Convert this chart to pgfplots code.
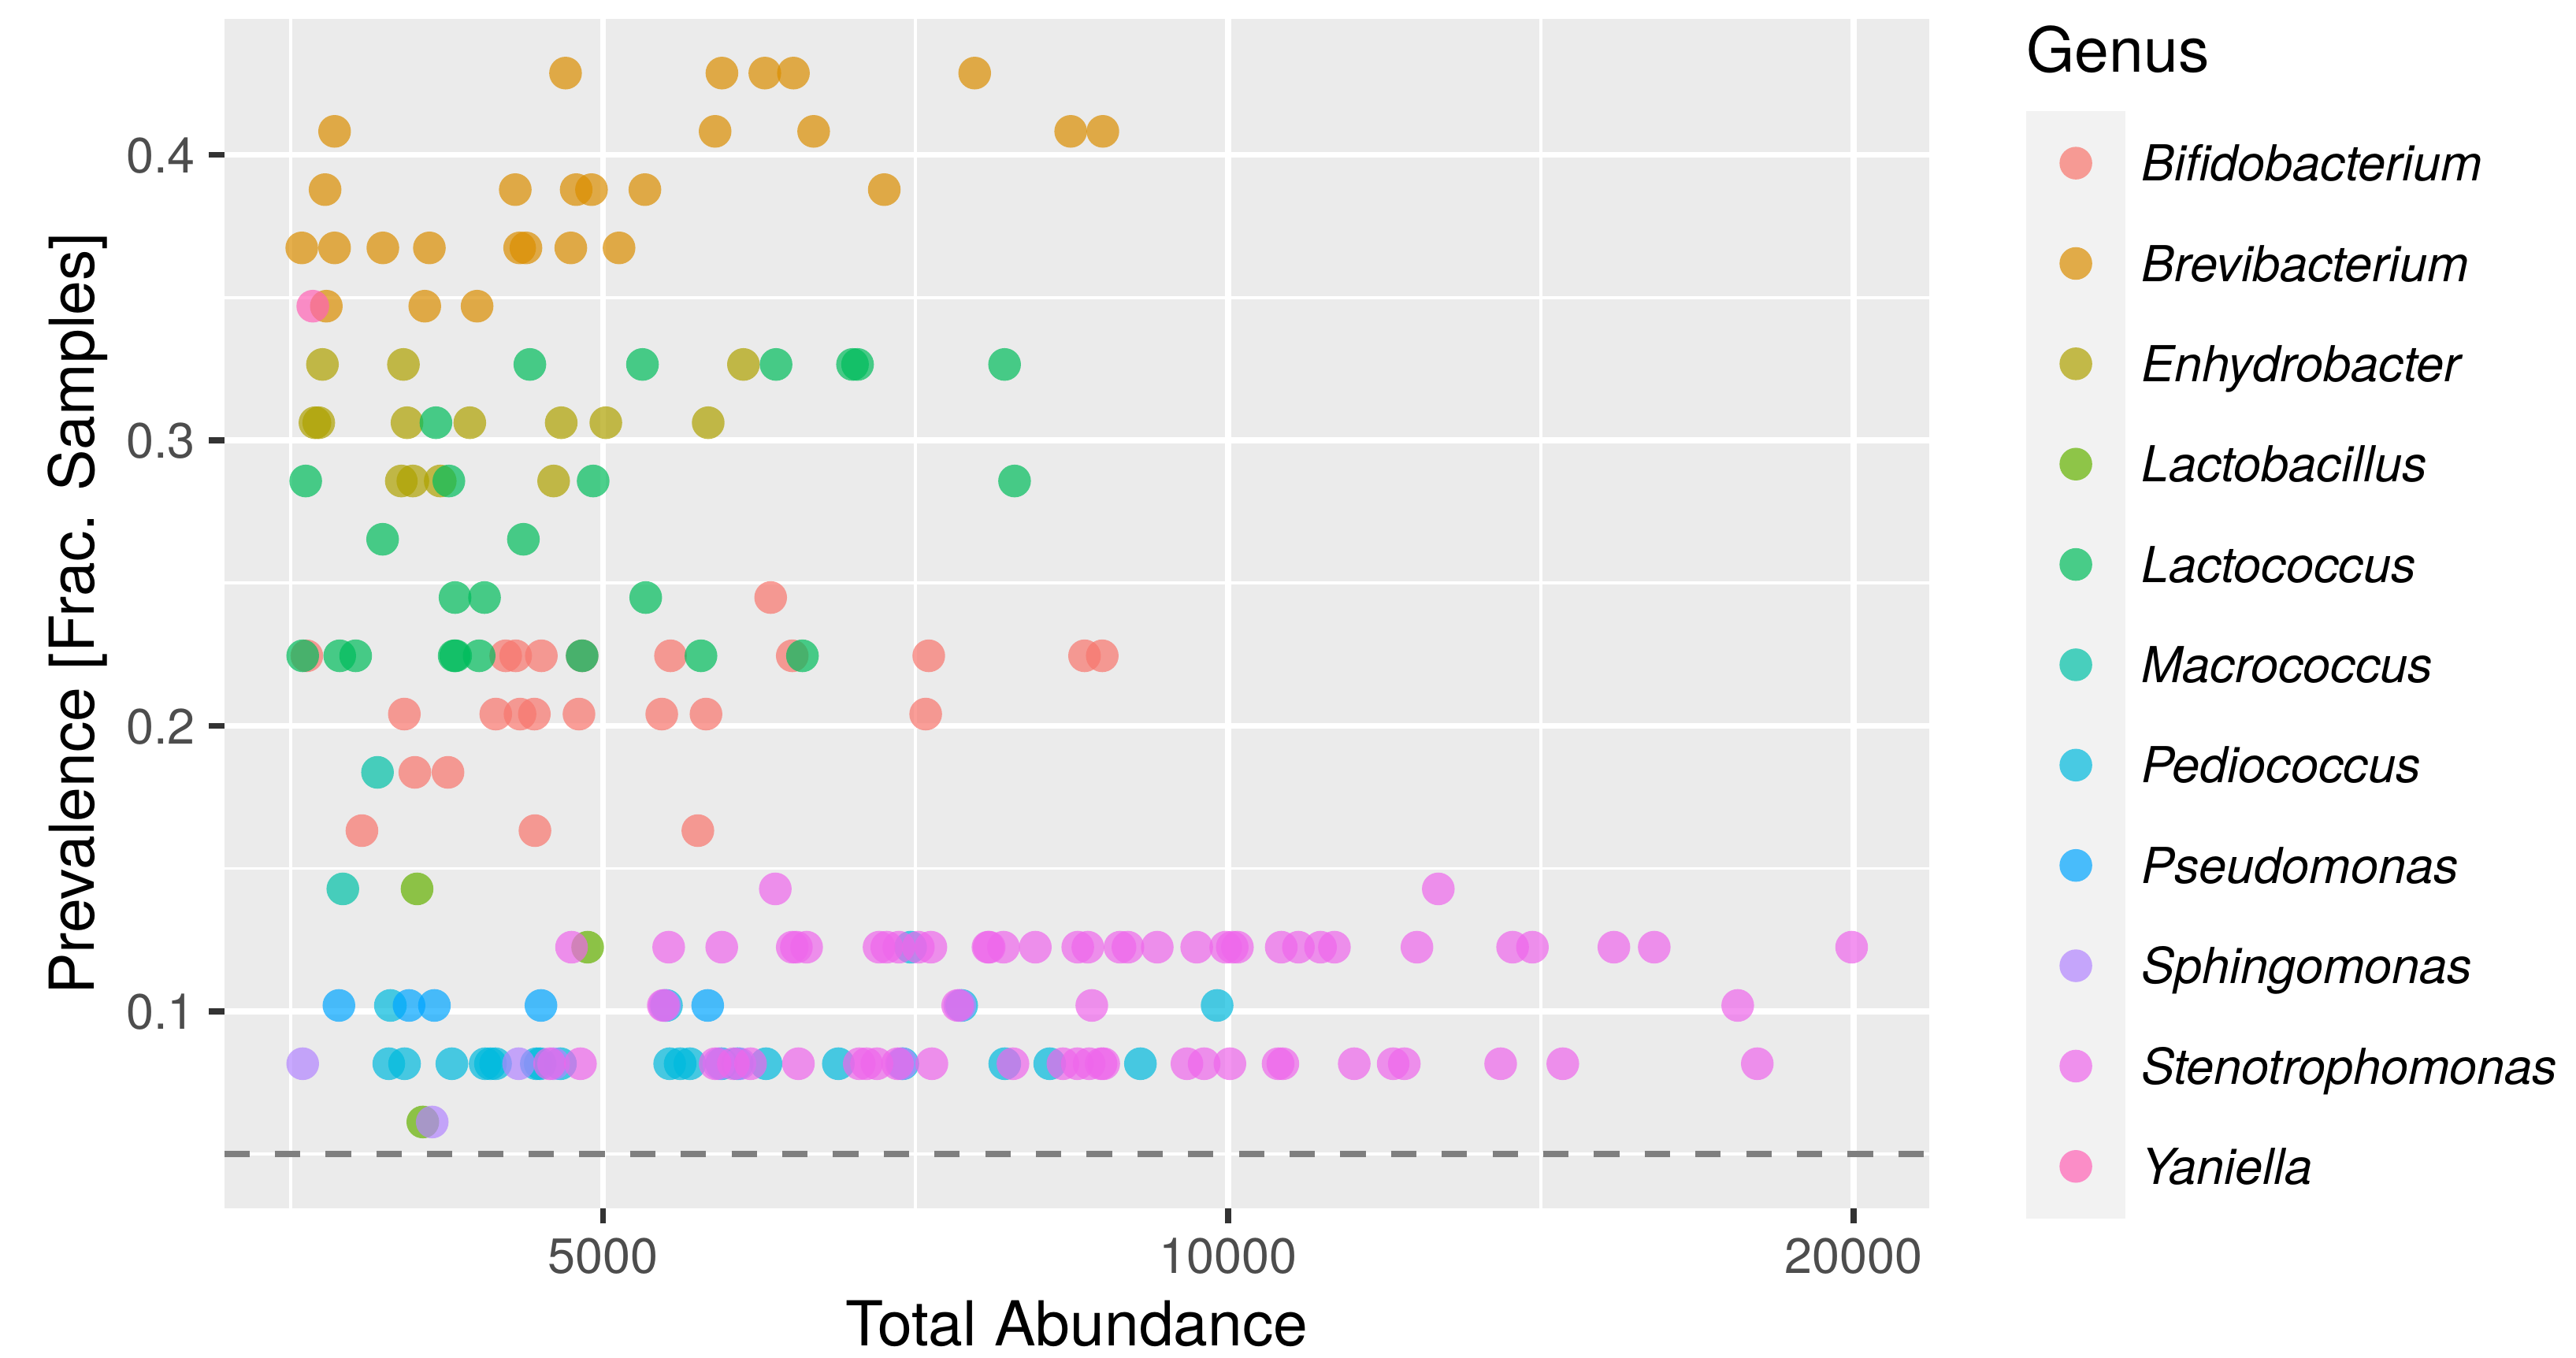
\documentclass[border=0pt]{standalone}
\usepackage{fontspec}
\setmainfont{TeX Gyre Heros}
\usepackage{pgfplots}
\pgfplotsset{compat=1.18}
\definecolor{cBif}{HTML}{F8766D}
\definecolor{cBre}{HTML}{DB8E00}
\definecolor{cEnh}{HTML}{AEA200}
\definecolor{cLba}{HTML}{64B200}
\definecolor{cLco}{HTML}{00BD5C}
\definecolor{cMac}{HTML}{00C1A7}
\definecolor{cPed}{HTML}{00BADE}
\definecolor{cPse}{HTML}{00A6FF}
\definecolor{cSph}{HTML}{B385FF}
\definecolor{cSte}{HTML}{EF67EB}
\definecolor{cYan}{HTML}{FF63B6}
\definecolor{panelbg}{HTML}{EBEBEB}
\definecolor{keybg}{HTML}{F2F2F2}
\definecolor{grey20}{HTML}{333333}
\definecolor{grey30}{HTML}{4D4D4D}
\definecolor{grey50}{HTML}{7F7F7F}
\pgfplotsset{gg/.style={only marks, mark=*, mark size=2.9pt, color=#1, fill=#1, fill opacity=0.7, draw opacity=0,
  mark options={draw=none, draw opacity=0, line width=0pt, fill=#1, fill opacity=0.7}}}
\begin{document}
\begin{tikzpicture}
\begin{axis}[
  scale only axis, width=302.5pt, height=210.96pt,
  xmode=log, xmin=3284.6, xmax=21755, ymin=0.031071, ymax=0.4475,
  clip mode=individual,
  axis background/.style={fill=panelbg},
  axis line style={draw=none},
  xtick={5000,10000,20000}, xticklabels={5000,10000,20000},
  ytick={0.1,0.2,0.3,0.4}, yticklabels={0.1,0.2,0.3,0.4},
  minor xtick={3535.5,7071.1,14142.1},
  minor ytick={0.05,0.15,0.25,0.35},
  xmajorgrids, ymajorgrids, xminorgrids, yminorgrids,
  major grid style={white, line width=1.07pt},
  minor grid style={white, line width=0.53pt},
  tick align=outside, xtick pos=bottom, ytick pos=left,
  major tick length=2.75pt, minor tick length=0pt,
  major tick style={grey20, line width=1.07pt},
  tick label style={font=\fontsize{8.8}{10.56}\selectfont, text=grey30, inner sep=0pt, text height=6.34pt, text depth=0pt},
  xticklabel style={anchor=north, yshift=-2.25pt},
  yticklabel style={anchor=east, xshift=-2.2pt},
  label style={font=\fontsize{11}{13.2}\selectfont, text=black, inner sep=0pt},
  xlabel={Total Abundance},
  xlabel style={at={(axis description cs:0.5,-0.11614)}, anchor=base},
  ylabel={Prevalence [Frac. Samples]},
  ylabel style={at={(axis description cs:-0.07636,0.5)}, anchor=base},
  legend cell align=left,
  legend style={at={(axis description cs:1.0562,0.9210)}, anchor=north west,
    draw=none, fill=none, inner sep=0pt, outer sep=0pt,
    row sep=0pt, column sep=2.6pt,
    font=\fontsize{8.8}{10.56}\selectfont\itshape,
    nodes={inner sep=0pt, outer sep=0pt, text height=6.34pt, text depth=0pt, text=black}},
  legend image code/.code={
    \path (-8.8pt,-8.7pt) rectangle (8.8pt,8.7pt);
    \fill[keybg, fill opacity=1, overlay] (-8.8pt,-9.2pt) rectangle (8.8pt,9.2pt);
    \fill[draw=none] (0pt,0pt) circle (2.9pt);
  },
]
\addplot[gg=cBif] table {
x y
6021 0.244898
3600 0.224490
4488 0.224490
4538 0.224490
4669 0.224490
4885 0.224490
5388 0.224490
6167 0.224490
7175 0.224490
8527 0.224490
8696 0.224490
4011 0.204082
4439 0.204082
4560 0.204082
4633 0.204082
4868 0.204082
5336 0.204082
5604 0.204082
7150 0.204082
4058 0.183673
4210 0.183673
3827 0.163265
4636 0.163265
5554 0.163265
};
\addlegendentry{Bifidobacterium}
\addplot[gg=cBre] table {
x y
4796 0.428571
5704 0.428571
5982 0.428571
6175 0.428571
7550 0.428571
3713 0.408163
5661 0.408163
6315 0.408163
8397 0.408163
8702 0.408163
3674 0.387755
4536 0.387755
4853 0.387755
4936 0.387755
5237 0.387755
6829 0.387755
3580 0.367347
3713 0.367347
3917 0.367347
4124 0.367347
4558 0.367347
4590 0.367347
4824 0.367347
5089 0.367347
3679 0.346939
4103 0.346939
4348 0.346939
};
\addlegendentry{Brevibacterium}
\addplot[gg=cEnh] table {
x y
3663 0.326531
4007 0.326531
5842 0.326531
3633 0.306122
3648 0.306122
4023 0.306122
4313 0.306122
4773 0.306122
5015 0.306122
5618 0.306122
3998 0.285714
4049 0.285714
4174 0.285714
4733 0.285714
};
\addlegendentry{Enhydrobacter}
\addplot[gg=cLba] table {
x y
4068 0.142857
4915 0.122449
4094 0.061224
};
\addlegendentry{Lactobacillus}
\addplot[gg=cLco] table {
x y
4610 0.326531
5223 0.326531
6057 0.326531
6593 0.326531
6630 0.326531
7805 0.326531
4154 0.306122
3596 0.285714
4214 0.285714
4945 0.285714
7891 0.285714
3916 0.265306
4577 0.265306
4243 0.244898
4384 0.244898
5242 0.244898
3584 0.224490
3734 0.224490
3801 0.224490
4239 0.224490
4246 0.224490
4358 0.224490
4885 0.224490
5573 0.224490
6237 0.224490
};
\addlegendentry{Lactococcus}
\addplot[gg=cMac] table {
x y
3894 0.183673
3747 0.142857
};
\addlegendentry{Macrococcus}
\addplot[gg=cPed] table {
x y
7032 0.122449
3950 0.102041
5364 0.102041
7441 0.102041
9877 0.102041
3943 0.081633
4012 0.081633
4228 0.081633
4387 0.081633
4413 0.081633
4438 0.081633
4643 0.081633
4663 0.081633
4769 0.081633
5383 0.081633
5446 0.081633
5505 0.081633
5702 0.081633
5802 0.081633
5990 0.081633
6490 0.081633
6971 0.081633
7806 0.081633
8204 0.081633
9072 0.081633
};
\addlegendentry{Pediococcus}
\addplot[gg=cPse] table {
x y
3731 0.102041
4032 0.102041
4147 0.102041
4667 0.102041
5615 0.102041
};
\addlegendentry{Pseudomonas}
\addplot[gg=cSph] table {
x y
5353 0.102041
7426 0.102041
3584 0.081633
4553 0.081633
4733 0.081633
5685 0.081633
5819 0.081633
6960 0.081633
4137 0.061224
};
\addlegendentry{Sphingomonas}
\addplot[gg=cSte] table {
x y
6052 0.142857
12622 0.142857
4828 0.122449
5377 0.122449
5703 0.122449
6167 0.122449
6195 0.122449
6266 0.122449
6790 0.122449
6848 0.122449
6940 0.122449
7093 0.122449
7192 0.122449
7662 0.122449
7673 0.122449
7795 0.122449
8074 0.122449
8463 0.122449
8558 0.122449
8869 0.122449
8947 0.122449
9243 0.122449
9656 0.122449
9972 0.122449
10044 0.122449
10102 0.122449
10605 0.122449
10809 0.122449
11077 0.122449
11249 0.122449
12327 0.122449
13706 0.122449
14010 0.122449
15335 0.122449
16037 0.122449
19963 0.122449
5345 0.102041
7409 0.102041
8596 0.102041
17593 0.102041
4712 0.081633
4876 0.081633
5661 0.081633
5777 0.081633
5888 0.081633
6209 0.081633
6643 0.081633
6696 0.081633
6774 0.081633
6930 0.081633
7200 0.081633
7877 0.081633
8325 0.081633
8459 0.081633
8571 0.081633
8685 0.081633
8710 0.081633
9552 0.081633
9736 0.081633
10018 0.081633
10568 0.081633
10624 0.081633
11499 0.081633
12006 0.081633
12155 0.081633
13526 0.081633
14491 0.081633
17979 0.081633
};
\addlegendentry{Stenotrophomonas}
\addplot[gg=cYan] table {
x y
3624 0.346939
};
\addlegendentry{Yaniella}
\addplot[forget plot, color=grey50, line width=1.12pt, dash pattern=on 4.5pt off 4.5pt] coordinates {(3284.6,0.05) (21755,0.05)};
\end{axis}
\node[anchor=base west, inner sep=0pt, font=\fontsize{11}{13.2}\selectfont] at (319.6pt,201.5pt) {Genus};
\pgfresetboundingbox
\useasboundingbox (-39.75pt,-26.46pt) rectangle (417.25pt,214.34pt);
\end{tikzpicture}
\end{document}
